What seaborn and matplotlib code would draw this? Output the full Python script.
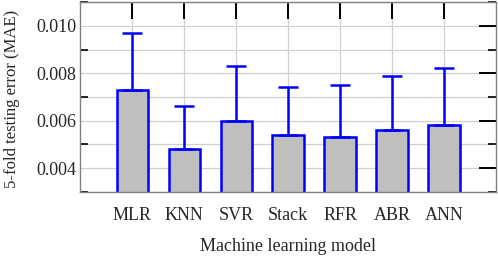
import numpy as np
import pandas as pd
import matplotlib
matplotlib.use("Agg")
import matplotlib.pyplot as plt
import seaborn as sns
from matplotlib.ticker import MultipleLocator

models = ["MLR", "KNN", "SVR", "Stack", "RFR", "ABR", "ANN"]
mae_mean = [0.0073, 0.0048, 0.0060, 0.0054, 0.0053, 0.0056, 0.0058]
mae_upper = [0.0097, 0.0066, 0.0083, 0.0074, 0.0075, 0.0079, 0.0082]

df = pd.DataFrame({"model": models, "mae": mae_mean})

sns.set_style("whitegrid")
plt.rcParams["font.family"] = ["Liberation Serif", "DejaVu Serif"]

fig, ax = plt.subplots(figsize=(4.98, 2.61), dpi=100)
fig.subplots_adjust(left=0.161, right=0.996, top=0.992, bottom=0.265)

sns.barplot(data=df, x="model", y="mae", color="#bfbfbf", width=0.6,
            edgecolor="#0000ff", linewidth=1.8, saturation=1, ax=ax)

err_up = np.array(mae_upper) - np.array(mae_mean)
ax.errorbar(np.arange(len(models)), mae_mean, yerr=[np.zeros(len(models)), err_up],
            fmt="none", ecolor="#0000ff", elinewidth=1.8, capsize=7, capthick=1.8, zorder=3)

ax.set_xlim(-1, 7)
ax.set_ylim(0.003, 0.011)
ax.yaxis.set_major_locator(MultipleLocator(0.002))
ax.yaxis.set_minor_locator(MultipleLocator(0.001))
ax.yaxis.set_major_formatter(matplotlib.ticker.FormatStrFormatter("%.3f"))

ax.grid(True, which="both", color="#d0d0d0", linewidth=0.9)
ax.set_axisbelow(True)
for s in ax.spines.values():
    s.set_color("#808080")
    s.set_linewidth(1.0)

ax.tick_params(axis="both", which="major", direction="in", length=12, width=1.4,
               color="black", labelsize=13, top=True, right=True, bottom=False)
ax.tick_params(axis="y", which="minor", direction="in", length=6, width=1.2,
               color="black", left=True, right=True)
ax.tick_params(axis="x", pad=11)
ax.tick_params(axis="y", pad=3)

ax.set_xlabel("Machine learning model", fontsize=13, labelpad=10)
ax.set_ylabel("5-fold testing error (MAE)", fontsize=12, labelpad=2)
ax.yaxis.set_label_coords(-0.145, 0.49)

fig.savefig("out.png", dpi=100)
